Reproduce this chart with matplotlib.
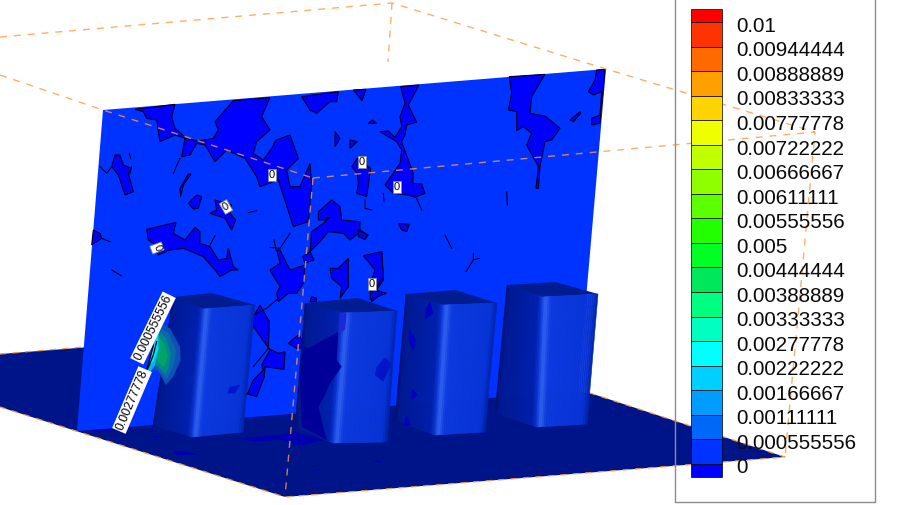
import numpy as np
import matplotlib
matplotlib.use("Agg")
import matplotlib.pyplot as plt

plt.rcParams['font.family'] = ['Liberation Sans', 'DejaVu Sans']

# colour bar
levels = [0, 0.000555556, 0.00111111, 0.00166667, 0.00222222, 0.00277778, 0.00333333,
          0.00388889, 0.00444444, 0.005, 0.00555556, 0.00611111, 0.00666667, 0.00722222,
          0.00777778, 0.00833333, 0.00888889, 0.00944444, 0.01]
level_labels = ['0', '0.000555556', '0.00111111', '0.00166667', '0.00222222', '0.00277778',
                '0.00333333', '0.00388889', '0.00444444', '0.005', '0.00555556', '0.00611111',
                '0.00666667', '0.00722222', '0.00777778', '0.00833333', '0.00888889',
                '0.00944444', '0.01']
level_colors = ['#0000ff', '#0033ff', '#0068f8', '#009cff', '#00d0ff', '#00ffff', '#00ffc0',
                '#00ff80', '#00e85a', '#00ff22', '#22ff00', '#5cff00', '#8fff00', '#bfff00',
                '#f0ff00', '#ffd400', '#ff9f00', '#ff6a00', '#ff3300', '#ff0000']

# scene outline, image pixels
floor = [(0, 354), (90, 347), (590, 393), (785, 457), (285, 497), (0, 407)]
wall = [(103, 110), (606, 69), (578, 391), (77, 431)]

# box corners: top back-left, top back-right, top right, top front, bottom left, bottom front, bottom right
boxes = [
    [(173, 297), (212, 293), (255, 305), (203, 309), (153, 425), (192, 437), (243, 432)],
    [(305, 303), (358, 298), (397, 311), (343, 313), (295, 427), (333, 443), (387, 442)],
    [(406, 294), (455, 290), (497, 303), (443, 305), (395, 420), (435, 435), (485, 432)],
    [(507, 285), (555, 282), (598, 294), (542, 297), (495, 413), (537, 427), (587, 424)],
]


def crop(x0, y0, pts):
    return [(x0 + x / 3, y0 + y / 3) for x, y in pts]


wall_patches = [
    crop(90, 70, [(135, 118), (255, 103), (245, 140), (255, 175), (290, 205), (325, 213), (370, 205),
                  (385, 180), (375, 155), (430, 92), (540, 83), (515, 140), (540, 180), (500, 215),
                  (490, 250), (520, 270), (545, 235), (558, 210), (600, 195), (625, 265), (590, 300),
                  (600, 350), (630, 350), (660, 280), (665, 345), (655, 455), (610, 470), (565, 330),
                  (510, 350), (500, 320), (465, 265), (410, 240), (375, 275), (345, 225), (320, 220),
                  (300, 255), (275, 260), (285, 205), (255, 195), (210, 215), (200, 150), (170, 145),
                  (160, 125)]),
    crop(90, 70, [(75, 255), (90, 255), (100, 285), (125, 295), (115, 310), (130, 365), (105, 375),
                  (85, 315), (65, 290)]),
    crop(90, 70, [(295, 312), (303, 312), (280, 345), (272, 380), (270, 355)]),
    crop(90, 70, [(320, 375), (335, 380), (325, 415), (310, 417), (295, 400)]),
    crop(90, 70, [(375, 390), (425, 405), (420, 430), (437, 450), (425, 480), (405, 445), (360, 430),
                  (380, 420)]),
    crop(90, 70, [(170, 478), (245, 460), (258, 458), (250, 490), (285, 510), (315, 472), (330, 485),
                  (330, 520), (360, 530), (385, 570), (410, 565), (415, 535), (430, 590), (445, 600),
                  (425, 600), (390, 620), (375, 600), (340, 560), (280, 535), (240, 540), (205, 555),
                  (190, 520), (175, 510)]),
    crop(90, 70, [(10, 480), (30, 490), (35, 505), (5, 525)]),
    crop(90, 70, [(635, 80), (745, 65), (740, 95), (720, 95), (680, 130), (660, 120)]),
    crop(90, 70, [(735, 185), (750, 205), (735, 230)]),
    crop(260, 170, [(215, 90), (240, 110), (245, 150), (300, 155), (300, 180), (325, 195), (315, 208),
                    (295, 190), (270, 210), (250, 190), (205, 185), (180, 215), (150, 245), (162, 270),
                    (135, 280), (128, 260), (150, 245), (155, 185), (190, 160), (210, 140), (195, 150),
                    (175, 150), (175, 125)]),
    crop(260, 170, [(60, 240), (90, 300), (135, 285), (130, 340), (110, 370), (85, 370), (55, 395),
                    (50, 370), (60, 350), (35, 310), (30, 300), (60, 280), (50, 240)]),
    crop(260, 170, [(210, 295), (235, 295), (265, 265), (265, 350), (240, 385), (245, 350), (215, 325)]),
    crop(260, 170, [(335, 262), (365, 245), (370, 330), (350, 360), (365, 370), (335, 395), (330, 360),
                    (355, 330), (350, 300)]),
    crop(260, 170, [(155, 380), (170, 385), (168, 395), (150, 395)]),
    crop(350, 60, [(22, 295), (62, 325), (55, 375), (50, 410), (20, 400), (25, 370), (22, 340), (5, 320)]),
    crop(350, 60, [(10, 90), (48, 88), (36, 122)]),
    crop(350, 60, [(152, 80), (207, 75), (175, 135), (200, 187), (170, 195), (165, 225), (155, 245),
                   (175, 300), (190, 340), (188, 370), (215, 372), (225, 400), (195, 412), (175, 405),
                   (130, 400), (105, 375), (150, 310), (155, 270), (140, 245), (90, 215), (115, 213),
                   (135, 232), (155, 200), (150, 170), (165, 130)]),
    crop(350, 60, [(478, 50), (585, 43), (545, 110), (540, 160), (585, 168), (630, 205), (605, 240),
                   (585, 245), (570, 320), (565, 385), (558, 385), (565, 320), (530, 255), (545, 220),
                   (520, 200), (500, 212), (500, 155), (475, 150), (485, 100)]),
    crop(350, 60, [(740, 30), (765, 28), (750, 190), (725, 195), (725, 175), (750, 165), (755, 95),
                   (730, 105), (715, 95), (735, 60)]),
    crop(350, 60, [(145, 490), (178, 493), (170, 515), (155, 510)]),
    crop(350, 60, [(25, 510), (50, 525), (45, 538), (25, 530)]),
    crop(350, 60, [(40, 587), (95, 575), (100, 650), (75, 690), (110, 700), (60, 718), (65, 660), (75, 630)]),
    crop(350, 60, [(55, 190), (80, 190), (68, 180)]),
    crop(350, 60, [(660, 180), (690, 155), (692, 160), (670, 185)]),
    crop(350, 60, [(0, 240), (22, 245), (0, 265)]),
    crop(90, 270, [(490, 140), (510, 105), (538, 155), (535, 235), (565, 250), (585, 245), (582, 298),
                   (525, 290), (523, 320), (500, 380), (472, 372), (490, 330), (520, 300), (515, 285),
                   (540, 240), (490, 170)]),
    crop(90, 270, [(595, 220), (625, 195), (655, 230), (620, 235)]),
]

wall_lines = [
    crop(90, 70, [(30, 290), (50, 310), (65, 290)]),
    crop(90, 70, [(125, 290), (120, 310)]),
    crop(90, 70, [(118, 250), (122, 265)]),
    crop(90, 70, [(35, 505), (60, 515)]),
    crop(90, 70, [(65, 600), (95, 618)]),
    crop(90, 70, [(475, 428), (500, 422)]),
    crop(90, 70, [(360, 525), (375, 497)]),
    crop(90, 70, [(250, 310), (270, 265)]),
    crop(260, 170, [(30, 232), (60, 235), (90, 190)]),
    crop(260, 170, [(42, 210), (48, 240)]),
    crop(350, 60, [(285, 525), (305, 565)]),
    crop(350, 60, [(370, 580), (370, 600), (348, 635)]),
    crop(350, 60, [(370, 600), (388, 595)]),
    crop(350, 60, [(470, 395), (472, 435)]),
    crop(350, 60, [(45, 420), (45, 445), (65, 450)]),
    crop(350, 60, [(100, 400), (102, 425)]),
    crop(350, 60, [(200, 415), (215, 450)]),
    crop(90, 270, [(490, 135), (530, 115), (565, 85)]),
    crop(90, 270, [(535, 235), (490, 290)]),
]

floor_patches = [
    crop(280, 280, [(0, 465), (40, 455), (130, 480), (60, 497), (0, 480)]),
    crop(0, 320, [(720, 355), (880, 340), (890, 355), (760, 365)]),
    crop(0, 320, [(515, 392), (560, 395), (600, 405), (530, 405)]),
    crop(0, 320, [(450, 350), (490, 345), (470, 355)]),
    crop(0, 320, [(285, 328), (340, 320), (345, 330), (280, 333)]),
    crop(280, 280, [(275, 545), (300, 540), (305, 548)]),
    crop(280, 280, [(95, 570), (120, 566), (125, 572)]),
]

box_patches = [
    (crop(280, 280, [(70, 200), (85, 205), (175, 155), (170, 240), (185, 260), (150, 310), (135, 345),
                     (115, 380), (140, 480), (65, 440), (60, 290)]), '#000098'),
    (crop(280, 280, [(180, 100), (200, 100), (195, 150), (175, 160)]), '#1a28d8'),
    (crop(280, 280, [(290, 260), (315, 232), (335, 250), (310, 305), (285, 285)]), '#0014c8'),
    (crop(90, 270, [(420, 350), (450, 345), (435, 370), (412, 370)]), '#0014c8'),
    (crop(280, 280, [(450, 65), (460, 100), (435, 118), (438, 85)]), '#0000be'),
    (crop(280, 280, [(388, 145), (408, 180), (400, 215), (385, 180)]), '#0000be'),
    (crop(280, 280, [(395, 325), (415, 345), (395, 360)]), '#0000be'),
    (crop(280, 280, [(380, 405), (393, 435), (370, 435)]), '#0000be'),
]

# contour bands of the hot spot, outer to inner
hot_bands = [
    (crop(90, 270, [(205, 155), (240, 175), (270, 230), (272, 270), (250, 320), (228, 345), (205, 305),
                    (185, 295), (180, 280)]), '#0c50b8'),
    (crop(90, 270, [(205, 170), (235, 190), (258, 240), (252, 285), (230, 328), (205, 300),
                    (185, 280)]), '#0a6aa8'),
    (crop(90, 270, [(205, 182), (228, 205), (243, 250), (237, 292), (226, 312), (205, 290),
                    (190, 270)]), '#008a88'),
    (crop(90, 270, [(205, 200), (224, 222), (233, 260), (222, 292), (205, 278), (195, 255)]), '#00a468'),
    (crop(90, 270, [(205, 180), (207, 235), (195, 285), (155, 345), (170, 300), (180, 265),
                    (190, 225)]), '#00b4f0'),
    (crop(90, 270, [(203, 195), (203, 240), (190, 275), (178, 285), (187, 245)]), '#00ecec'),
]
hot_lines = [
    crop(90, 270, [(190, 225), (180, 265), (170, 300), (150, 345), (135, 385)]),
    crop(90, 270, [(200, 215), (190, 255), (178, 285), (160, 325)]),
    crop(90, 270, [(165, 325), (150, 365), (130, 405)]),
]

zero_labels = [(272, 175, 0), (362, 162, 0), (397, 187, 0), (372, 284, 0), (226, 207, 30), (157, 248, -70)]
long_labels = [(153, 328, 64, '0.000555556'), (132, 400, 67, '0.00277778')]

# bounding box lines
box_dashes = [
    [(0, 37), (392, 3), (606, 69), (815, 132)],
    [(392, 3), (388, 62)],
    [(0, 75), (103, 110), (313, 178)],
    [(313, 178), (815, 132), (785, 457)],
    [(313, 178), (285, 497)],
]
floor_dashes = [
    [(0, 354), (83, 347)],
    [(0, 407), (285, 497), (785, 457), (590, 393)],
]

side_left = [(0, (0, 15, 105)), (0.1, (0, 26, 145)), (0.88, (0, 32, 172)), (1, (12, 55, 210))]
side_front = [(0, (15, 60, 220)), (0.07, (50, 100, 240)), (0.18, (12, 58, 222)), (0.9, (8, 52, 215)),
              (1, (0, 35, 165))]


def shaded_side(ax, tl, tr, bl, br, stops, z, n=28):
    tl, tr, bl, br = map(np.array, (tl, tr, bl, br))
    us = np.linspace(0, 1, n + 1)
    st = [s[0] for s in stops]
    for u0, u1 in zip(us[:-1], us[1:]):
        um = 0.5 * (u0 + u1)
        col = [np.interp(um, st, [s[1][i] for s in stops]) / 255 for i in range(3)]
        quad = [tl + (tr - tl) * u0, tl + (tr - tl) * u1, bl + (br - bl) * u1, bl + (br - bl) * u0]
        ax.fill(*zip(*quad), color=col, lw=0.4, zorder=z)


fig = plt.figure(figsize=(9, 5.05), dpi=100)
ax = fig.add_axes([0, 0, 1, 1])
ax.set_xlim(0, 900)
ax.set_ylim(505, 0)
ax.axis('off')

ax.fill(*zip(*floor), color='#00148a', lw=0, zorder=1)
for p in floor_patches:
    ax.fill(*zip(*p), color='#0000b0', lw=0, zorder=1.1)

ax.fill(*zip(*wall), color='#0033ff', lw=0, zorder=2)
for p in wall_patches:
    ax.fill(*zip(*p), facecolor='#0000ff', edgecolor='#000028', lw=0.8, zorder=2.1)
for p in wall_lines:
    ax.plot(*zip(*p), color='#000028', lw=0.8, zorder=2.1)

for b in boxes:
    tbl, tbr, tr, tf, bl, bf, br = b
    ax.fill(*zip(*[tbl, tbr, tr, tf]), color='#001c8e', lw=0, zorder=3)
    shaded_side(ax, tbl, tf, bl, bf, side_left, 3)
    shaded_side(ax, tf, tr, bf, br, side_front, 3)
for p, c in box_patches:
    ax.fill(*zip(*p), color=c, lw=0, zorder=3.1)

for p, c in hot_bands:
    ax.fill(*zip(*p), color=c, lw=0, zorder=4)
for p in hot_lines:
    ax.plot(*zip(*p), color='#000014', lw=0.9, zorder=4.1)

for seg in box_dashes:
    ax.plot(*zip(*seg), color='#ff9a40', alpha=0.8, lw=1, dashes=(5, 5), zorder=5)
for seg in floor_dashes:
    ax.plot(*zip(*seg), color='#f59a40', lw=0.9, dashes=(5, 5), zorder=5)

for x, y, rot in zero_labels:
    ax.text(x, y, '0', fontsize=8, ha='center', va='center', rotation=rot, color='black', zorder=6,
            bbox=dict(facecolor='white', edgecolor='#888888', lw=0.6, pad=0.8))
for x, y, rot, s in long_labels:
    ax.text(x, y, s, fontsize=8.8, ha='center', va='center', rotation=rot, rotation_mode='anchor',
            color='black', zorder=6, bbox=dict(facecolor='white', edgecolor='none', pad=1))

# legend frame, not filled: the scene shows through it
ax.plot([675, 675, 875, 875], [-2, 501.5, 501.5, -2], color='#8c8c8c', lw=1, zorder=7)

step = levels[1] - levels[0]
edges = [-0.53 * step] + levels + [levels[-1] + 0.54 * step]
cb = fig.add_axes([691 / 900, 1 - 476.7 / 505, 31 / 900, (476.7 - 9) / 505])
cb.set_xlim(0, 1)
cb.set_ylim(edges[0], edges[-1])
cb.axis('off')
cb.bar(0.5, np.diff(edges), bottom=edges[:-1], width=1, color=level_colors, edgecolor='#000000',
       linewidth=0.5, clip_on=False)
for lev, lab in zip(levels, level_labels):
    cb.annotate(lab, (1, lev), xycoords=('axes fraction', 'data'), xytext=(10.6, -3),
                textcoords='offset points', fontsize=14.9, va='center', ha='left', color='#0a0a0a',
                annotation_clip=False)

fig.savefig('out.png', dpi=100)
